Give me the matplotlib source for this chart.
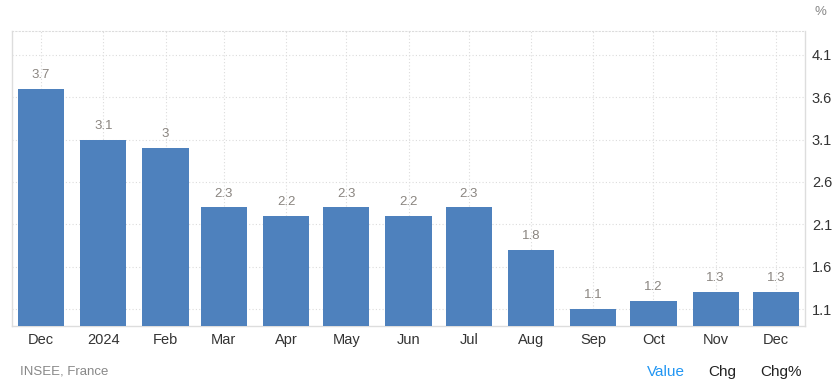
import matplotlib.pyplot as plt
from datetime import date

plt.rcParams['font.family'] = ['Liberation Sans', 'DejaVu Sans']

# inflation rate, France (%)
months = [date(2023, 12, 1), date(2024, 1, 1), date(2024, 2, 1), date(2024, 3, 1),
          date(2024, 4, 1), date(2024, 5, 1), date(2024, 6, 1), date(2024, 7, 1),
          date(2024, 8, 1), date(2024, 9, 1), date(2024, 10, 1), date(2024, 11, 1),
          date(2024, 12, 1)]
labels = ["Dec", "2024", "Feb", "Mar", "Apr", "May", "Jun", "Jul", "Aug",
          "Sep", "Oct", "Nov", "Dec"]
values = [3.7, 3.1, 3.0, 2.3, 2.2, 2.3, 2.2, 2.3, 1.8, 1.1, 1.2, 1.3, 1.3]
yticks = [1.1, 1.6, 2.1, 2.6, 3.1, 3.6, 4.1]

# x positions in days from the first month
x = [(m - months[0]).days for m in months]

fig = plt.figure(figsize=(8.39, 3.88), dpi=100)
ax = fig.add_axes([12 / 839, 62 / 388, 793 / 839, 295 / 388])

bar_color = "#4e81bd"
grid_color = "#dcdcdc"
ax.bar(x, values, width=23, color=bar_color, zorder=3)

for xi, v in zip(x, values):
    ax.annotate(f"{v:g}", (xi, v), xytext=(0, 5.5), textcoords="offset points",
                ha="center", va="bottom", fontsize=9.5, color="#8a8580")

ax.set_xlim(x[0] - 14.5, x[-1] + 14.5)
ax.set_ylim(0.9, 4.38)
ax.set_xticks(x)
ax.set_xticklabels(labels, fontsize=10.5, color="#333333")
ax.set_yticks(yticks)
ax.set_yticklabels([f"{t:.1f}" for t in yticks], fontsize=10.5, color="#333333")
ax.yaxis.tick_right()
ax.tick_params(axis="both", length=0)
ax.tick_params(axis="x", pad=5)
ax.tick_params(axis="y", pad=5)

ax.grid(True, color=grid_color, linestyle=(0, (1, 2)), linewidth=0.8, zorder=0)

for side in ["left", "right", "bottom"]:
    ax.spines[side].set_color("#dddddd")
    ax.spines[side].set_linewidth(1)
ax.spines["top"].set_color(grid_color)
ax.spines["top"].set_linestyle((0, (1, 2)))
ax.spines["top"].set_linewidth(0.8)

fig.text(820 / 839, 1 - 12 / 388, "%", fontsize=9.5, color="#888888",
         ha="center", va="center")
fig.text(20 / 839, 1 - 372 / 388, "INSEE, France", fontsize=9.5, color="#888888",
         ha="left", va="center")
fig.text(666 / 839, 1 - 372 / 388, "Value", fontsize=11, color="#2196f3",
         ha="center", va="center")
fig.text(722 / 839, 1 - 372 / 388, "Chg", fontsize=11, color="#222222",
         ha="center", va="center")
fig.text(781 / 839, 1 - 372 / 388, "Chg%", fontsize=11, color="#222222",
         ha="center", va="center")

fig.savefig("out.png", dpi=100)
